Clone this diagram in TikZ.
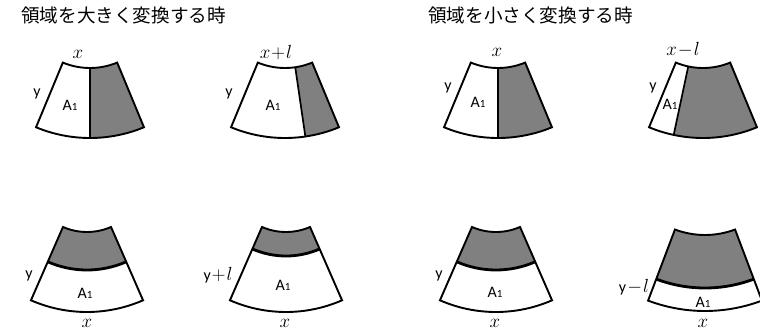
\RequirePackage{fix-cm}
\documentclass[tikz,border=0pt]{standalone}
\usepackage{fontspec}
\setmainfont{Carlito}
\newfontfamily\jpfont{Noto Sans CJK JP}
\usetikzlibrary{calc}
\definecolor{fillgray}{HTML}{808080}
\newcommand\fansector[7]{%
  \path[#7] ($(#1,#2)+(#5:#3pt)$) arc[start angle=#5,end angle=#6,radius=#3pt]
    -- ($(#1,#2)+(#6:#4pt)$) arc[start angle=#6,end angle=#5,radius=#4pt] -- cycle;}
\newcommand\radline[6]{% cx cy r1 r2 angle style
  \draw[#6] ($(#1,#2)+(#5:#3pt)$) -- ($(#1,#2)+(#5:#4pt)$);}
\newcommand\ringline[6]{% cx cy r a1 a2 style
  \draw[#6] ($(#1,#2)+(#4:#3pt)$) arc[start angle=#4,end angle=#5,radius=#3pt];}
\tikzset{
  outline/.style={draw=black,line width=1.9pt},
  thinsplit/.style={draw=black,line width=1.7pt},
  thicksplit/.style={draw=black,line width=2.8pt},
  grayarea/.style={fill=fillgray},
  title/.style={font=\jpfont\fontsize{18.6}{21}\selectfont,anchor=west,inner sep=0pt},
  lab/.style={font=\fontsize{16}{16}\selectfont,inner sep=0pt},
  mlab/.style={font=\fontsize{19}{19}\selectfont,inner sep=0pt},
  alab/.style={inner sep=0pt}
}
\newcommand\Aone{{\fontsize{16}{16}\selectfont A\fontsize{11}{11}\selectfont 1}}
\newcommand\pml[1]{{\fontsize{16}{16}\selectfont y}$\mkern1mu{#1}\mkern1mu l$}
\begin{document}
\begin{tikzpicture}[x=1pt,y=1pt]
\useasboundingbox (0,0) rectangle (760,-333);
\fill[white] (0,0) rectangle (760,-333);
% titles
\node[title] (t1) at (21,-15) {領域を大きく変換する時};
\node[title] (t2) at (428,-15) {領域を小さく変換する時};
% ---- top row: center y = +3, r1=71, r2=141, angles 247.5..292.5
% fig 1
\fansector{90}{3}{71}{141}{270}{292.5}{grayarea}
\fansector{90}{3}{71}{141}{247.5}{292.5}{outline}
\radline{90}{3}{71}{141}{270}{thicksplit}
\node[mlab] (x1) at (78,-54) {$x$};
\node[lab] (y1) at (37,-94) {y};
\node[alab] (a1) at (70,-105) {\Aone};
% fig 2
\fansector{285}{3}{71}{141}{278.3}{292.5}{grayarea}
\fansector{285}{3}{71}{141}{247.5}{292.5}{outline}
\radline{285}{3}{71}{141}{278.3}{thinsplit}
\node[mlab] (x2) at (276,-53) {$x\mkern1mu{+}\mkern1mu l$};
\node[lab] (y2) at (229,-94) {y};
\node[alab] (a2) at (273,-105) {\Aone};
% fig 3
\fansector{498}{3}{71}{141}{270}{292.5}{grayarea}
\fansector{498}{3}{71}{141}{247.5}{292.5}{outline}
\radline{498}{3}{71}{141}{270}{thicksplit}
\node[mlab] (x3) at (497,-52) {$x$};
\node[lab] (y3) at (448,-88) {y};
\node[alab] (a3) at (478,-102) {\Aone};
% fig 4
\fansector{703}{3}{71}{141}{258}{292.5}{grayarea}
\fansector{703}{3}{71}{141}{247.5}{292.5}{outline}
\radline{703}{3}{71}{141}{258}{thinsplit}
\node[mlab] (x4) at (683,-50) {$x\mkern1mu{-}\mkern1mu l$};
\node[lab] (y4) at (653,-88) {y};
\node[alab] (a4) at (670,-104) {\Aone};
% ---- bottom row: center y = -172, r1=60, r2=140, angles 246.4..293.6
% fig 5
\fansector{87}{-172}{60}{98}{246.4}{293.6}{grayarea}
\fansector{87}{-172}{60}{140}{246.4}{293.6}{outline}
\ringline{87}{-172}{98}{246.4}{293.6}{thicksplit}
\node[lab] (y5) at (29,-276) {y};
\node[alab] (a5) at (85,-293) {\Aone};
\node[mlab] (x5) at (87,-323) {$x$};
% fig 6
\fansector{286}{-172}{60}{84}{246.4}{293.6}{grayarea}
\fansector{286}{-172}{60}{140}{246.4}{293.6}{outline}
\ringline{286}{-172}{84}{246.4}{293.6}{thicksplit}
\node[mlab] (y6) at (218,-275) {\pml{+}};
\node[alab] (a6) at (283,-285) {\Aone};
\node[mlab] (x6) at (285,-323) {$x$};
% fig 7
\fansector{496}{-172}{60}{98}{246.4}{293.6}{grayarea}
\fansector{496}{-172}{60}{140}{246.4}{293.6}{outline}
\ringline{496}{-172}{98}{246.4}{293.6}{thicksplit}
\node[lab] (y7) at (439,-276) {y};
\node[alab] (a7) at (495,-292) {\Aone};
\node[mlab] (x7) at (495,-323) {$x$};
% fig 8
\fansector{705}{-150}{85}{138}{249.3}{290.7}{grayarea}
\fansector{705}{-150}{85}{161}{249.3}{290.7}{outline}
\ringline{705}{-150}{138}{249.3}{290.7}{thicksplit}
\node[mlab] (y8) at (634,-287) {\pml{-}};
\node[alab] (a8) at (703,-302) {\Aone};
\node[mlab] (x8) at (703,-323) {$x$};
\end{tikzpicture}
\end{document}
